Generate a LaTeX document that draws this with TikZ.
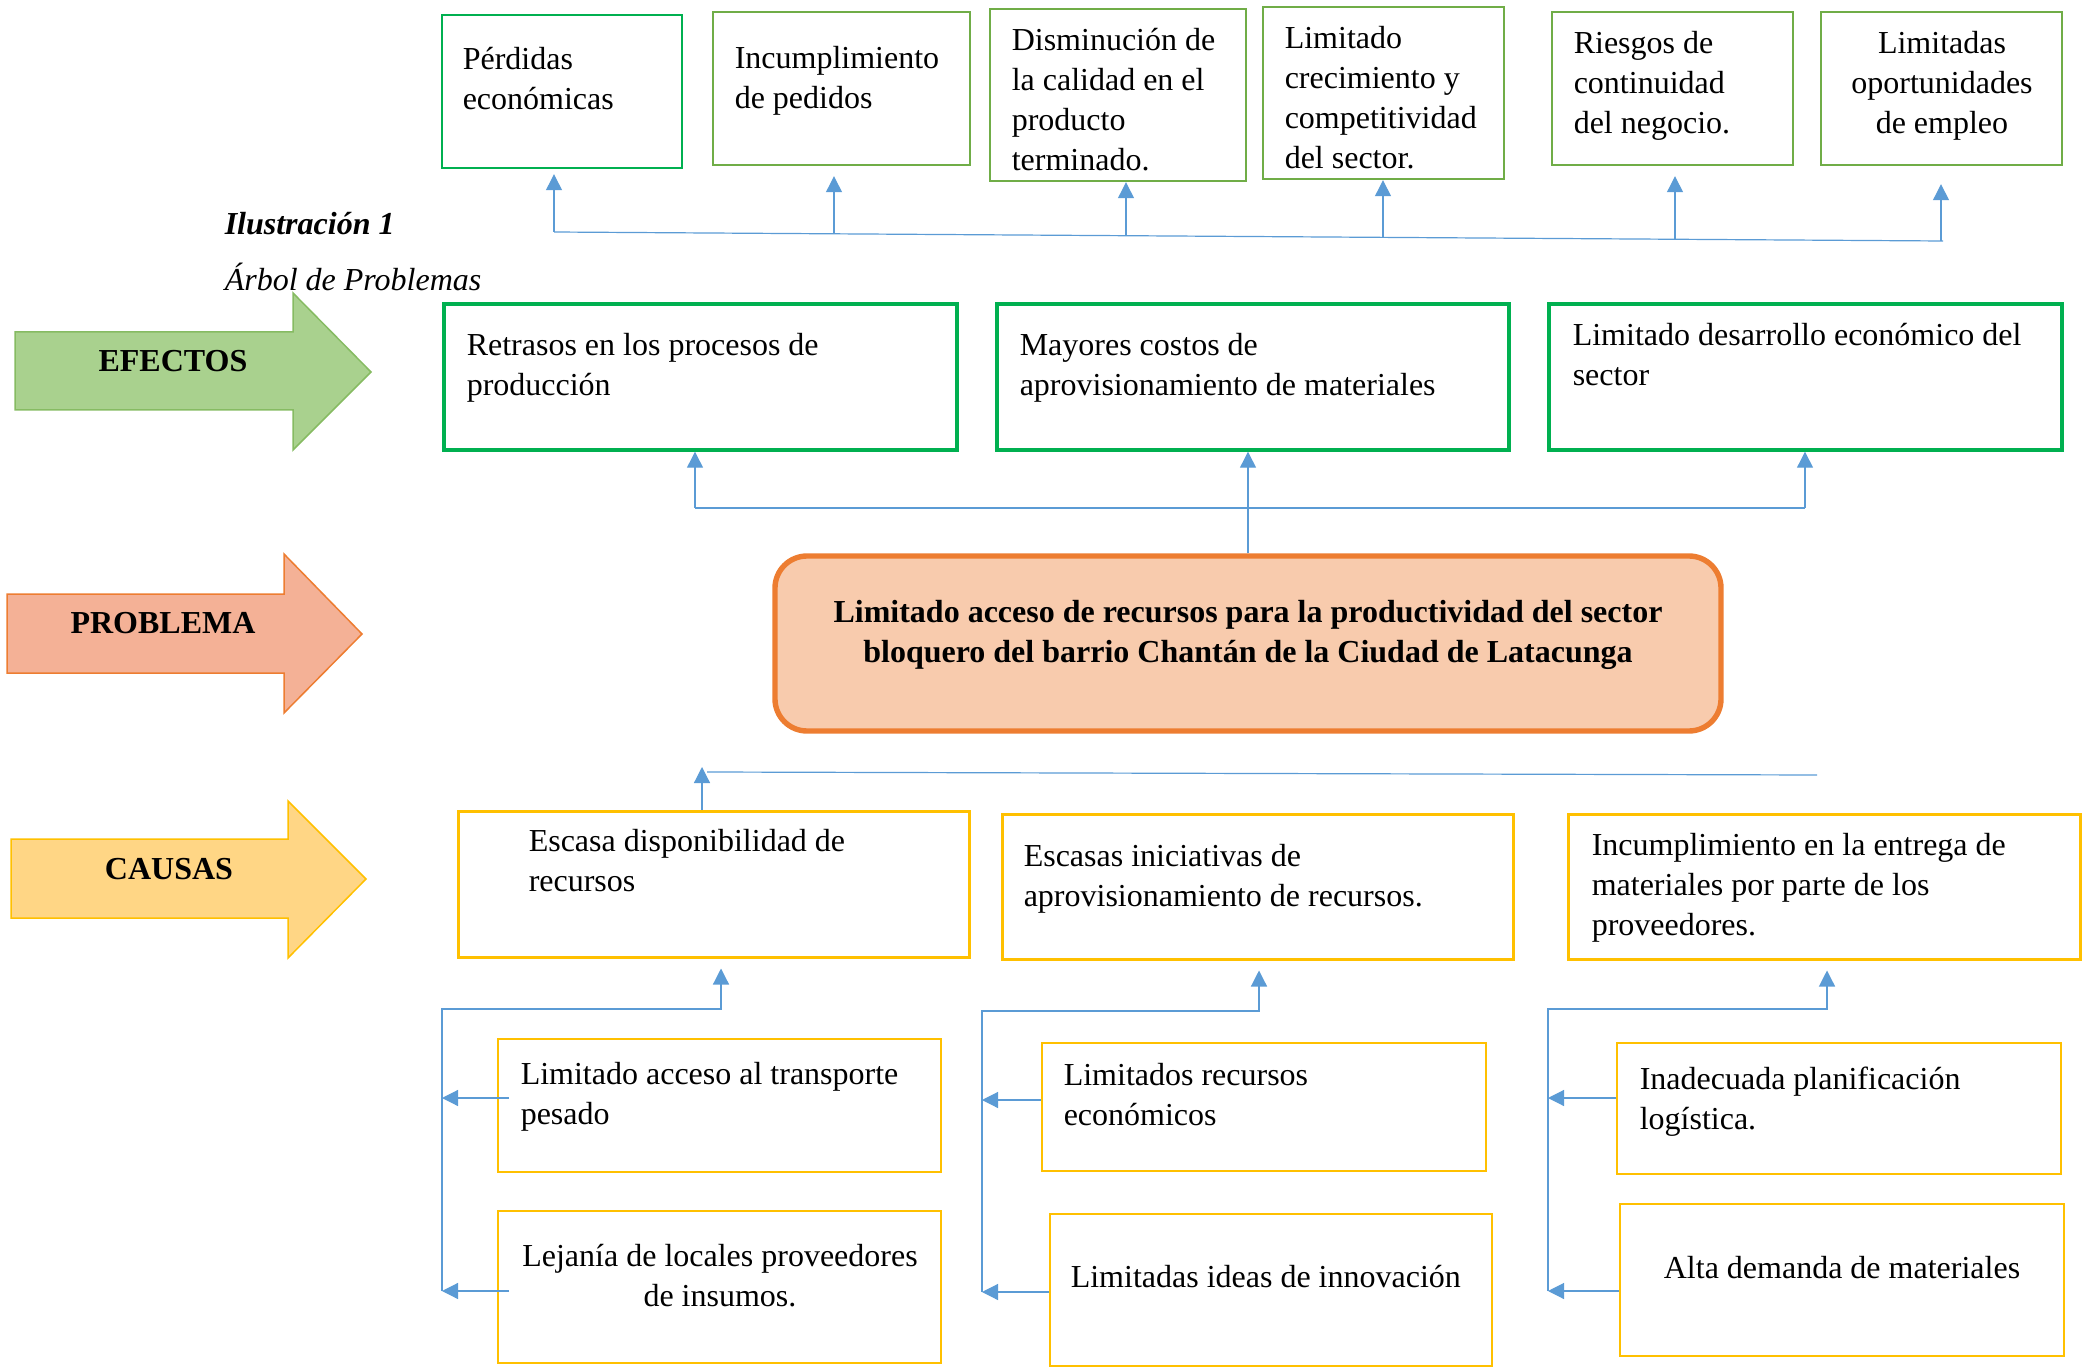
\documentclass[tikz,border=0pt]{standalone}
\usepackage{fontspec}
\setmainfont{Liberation Serif}
\usetikzlibrary{arrows.meta,fit}

\definecolor{efolive}{HTML}{70AD47}
\definecolor{efgreen}{HTML}{00B050}
\definecolor{pborange}{HTML}{ED7D31}
\definecolor{pbfill}{HTML}{F8CBAD}
\definecolor{cayellow}{HTML}{FFC000}
\definecolor{linkblue}{HTML}{5B9BD5}
\definecolor{efarrow}{HTML}{A9D18E}
\definecolor{efarrowline}{HTML}{86BB62}
\definecolor{pbarrow}{HTML}{F4B196}
\definecolor{caarrow}{HTML}{FFD685}

\tikzset{every picture/.style={line width=0.75pt}}
\tikzset{
  txt/.style={font=\fontsize{16}{20}\selectfont, inner sep=0pt, align=left, anchor=north west},
  tag/.style={font=\fontsize{16}{20}\selectfont\bfseries, inner sep=0pt},
  efbox/.style={draw=efolive, line width=1.2pt, inner sep=0pt},
  efmain/.style={draw=efgreen, line width=1.7pt, inner sep=0pt},
  pbbox/.style={draw=pborange, fill=pbfill, line width=2.7pt, rounded corners=16pt, inner sep=0pt},
  cabox/.style={draw=cayellow, line width=1.5pt, inner sep=0pt},
  casub/.style={draw=cayellow, line width=1pt, inner sep=0pt},
  link/.style={draw=linkblue, line width=0.6pt},
  linkarr/.style={link, color=linkblue, -{Triangle[length=8pt,width=8pt]}},
}

\begin{document}
\begin{tikzpicture}[x=0.5pt,y=0.5pt,yscale=-1,xscale=1]
	\useasboundingbox (0,0) rectangle (2089,1369);

	%Shape: Right Arrow
	\draw [draw=efarrowline, fill=efarrow] (15,332) -- (293,332) -- (293,293) -- (371,372) -- (293,450) -- (293,410) -- (15,410) -- cycle ;
	%Shape: Right Arrow
	\draw [draw=pborange, fill=pbarrow] (7,594) -- (284,594) -- (284,554) -- (362,634) -- (284,713) -- (284,673) -- (7,673) -- cycle ;
	%Shape: Right Arrow
	\draw [draw=cayellow, fill=caarrow] (11,839) -- (288,839) -- (288,801) -- (366,879) -- (288,958) -- (288,918) -- (11,918) -- cycle ;

	% Text Node
	\node [tag] (efectos) at (173,361) {EFECTOS};
	% Text Node
	\node [tag] (problema) at (163,623) {PROBLEMA};
	% Text Node
	\node [tag] (causas) at (169,869) {CAUSAS};

	% Text Node
	\node [anchor=base west, inner sep=0pt, font=\fontsize{16}{20}\selectfont\bfseries\itshape] (ilus) at (224,235) {Ilustración 1};
	% Text Node
	\node [anchor=base west, inner sep=0pt, font=\fontsize{16}{20}\selectfont\itshape] (arbol) at (224,291) {Árbol de Problemas};

	%Shape: Rectangle (upper effects)
	\node [efbox, draw=efgreen, fit={(442,15) (682,168)}] (fx1) {};
	\node [efbox, fit={(713,12) (970,165)}] (fx2) {};
	\node [efbox, fit={(990,9) (1246,181)}] (fx3) {};
	\node [efbox, fit={(1263,7) (1504,179)}] (fx4) {};
	\node [efbox, fit={(1552,12) (1793,165)}] (fx5) {};
	\node [efbox, fit={(1821,12) (2062,165)}] (fx6) {};

	% Text Node
	\node [txt] (fx1t) at (462,47) {Pérdidas\\económicas};
	% Text Node
	\node [txt] (fx2t) at (734,46) {Incumplimiento\\de pedidos};
	% Text Node
	\node [txt] (fx3t) at (1011,28) {Disminución de\\la calidad en el\\producto\\terminado.};
	% Text Node
	\node [txt] (fx4t) at (1284,26) {Limitado\\crecimiento y\\competitividad\\del sector.};
	% Text Node
	\node [txt] (fx5t) at (1573,31) {Riesgos de\\continuidad\\del negocio.};
	% Text Node
	\node [txt, anchor=north, align=center] (fx6t) at (1942,31) {Limitadas\\oportunidades\\de empleo};

	%Straight Lines (upper effects)
	\coordinate (fxa) at (554,232);
	\coordinate (fxb) at (1943,241);
	\draw [link] (fxa) -- (fxb) ;
	\coordinate (fx2b) at (834,234);
	\coordinate (fx3b) at (1126,236);
	\coordinate (fx4b) at (1383,237);
	\coordinate (fx5b) at (1675,239);
	\coordinate (fx6b) at (1941,241);
	\draw [linkarr, shorten >=2.5pt] (fxa) -- (fxa |- fx1.south) ;
	\draw [linkarr, shorten >=5pt] (fx2b) -- (fx2b |- fx2.south) ;
	\draw [linkarr] (fx3b) -- (fx3b |- fx3.south) ;
	\draw [linkarr] (fx4b) -- (fx4b |- fx4.south) ;
	\draw [linkarr, shorten >=5pt] (fx5b) -- (fx5b |- fx5.south) ;
	\draw [linkarr, shorten >=9pt] (fx6b) -- (fx6b |- fx6.south) ;

	%Shape: Rectangle (effects)
	\node [efmain, fit={(444,304) (957,450)}] (ef1) {};
	\node [efmain, fit={(997,304) (1509,450)}] (ef2) {};
	\node [efmain, fit={(1549,304) (2062,450)}] (ef3) {};

	% Text Node
	\node [txt] (ef1t) at (466,333) {Retrasos en los procesos de\\producción};
	% Text Node
	\node [txt] (ef2t) at (1019,333) {Mayores costos de\\aprovisionamiento de materiales};
	% Text Node
	\node [txt] (ef3t) at (1572,323) {Limitado desarrollo económico del\\sector};

	%Shape: Rounded Rectangle (problem)
	\node [pbbox, fit={(775,556) (1721,731)}] (pb) {};
	% Text Node
	\node [txt, anchor=north, align=center, font=\fontsize{16}{20}\selectfont\bfseries] (pbt) at (1248,600) {Limitado acceso de recursos para la productividad del sector\\bloquero del barrio Chantán de la Ciudad de Latacunga};

	%Straight Lines (problem to effects)
	\coordinate (efa) at (695,508);
	\coordinate (efb) at (1805,508);
	\draw [link] (efa) -- (efb) ;
	\draw [linkarr] (efa) -- (efa |- ef1.south) ;
	\draw [linkarr] (efb) -- (efb |- ef3.south) ;
	\draw [linkarr] (pb.north) -- (pb.north |- ef2.south) ;

	%Shape: Rectangle (causes)
	\node [cabox, fit={(458,811) (969,957)}] (ca1) {};
	\node [cabox, fit={(1002,814) (1513,959)}] (ca2) {};
	\node [cabox, fit={(1568,814) (2080,959)}] (ca3) {};

	% Text Node
	\node [txt] (ca1t) at (528,829) {Escasa disponibilidad de\\recursos};
	% Text Node
	\node [txt] (ca2t) at (1023,844) {Escasas iniciativas de\\aprovisionamiento de recursos.};
	% Text Node
	\node [txt] (ca3t) at (1591,833) {Incumplimiento en la entrega de\\materiales por parte de los\\proveedores.};

	%Straight Lines (causes to problem)
	\coordinate (caa) at (702,767);
	\coordinate (cal) at (707,772);
	\coordinate (cab) at (1817,775);
	\draw [link] (cal) -- (cab) ;
	\draw [linkarr] (caa |- ca1.north) -- (caa) ;

	%Shape: Rectangle (sub causes)
	\node [casub, fit={(498,1039) (941,1172)}] (cs1) {};
	\node [casub, fit={(498,1211) (941,1363)}] (cs2) {};
	\node [casub, fit={(1042,1043) (1486,1171)}] (cs3) {};
	\node [casub, fit={(1050,1214) (1492,1366)}] (cs4) {};
	\node [casub, fit={(1617,1043) (2061,1174)}] (cs5) {};
	\node [casub, fit={(1620,1204) (2064,1356)}] (cs6) {};

	% Text Node
	\node [txt] (cs1t) at (520,1062) {Limitado acceso al transporte\\pesado};
	% Text Node
	\node [txt, anchor=north, align=center] (cs2t) at (720,1243) {Lejanía de locales proveedores\\de insumos.};
	% Text Node
	\node [txt] (cs3t) at (1063,1063) {Limitados recursos\\económicos};
	% Text Node
	\node [txt, anchor=base west] (cs4t) at (1070,1287) {Limitadas ideas de innovación};
	% Text Node
	\node [txt] (cs5t) at (1639,1066) {Inadecuada planificación\\logística.};
	% Text Node
	\node [txt, anchor=base] (cs6t) at (1842,1278) {Alta demanda de materiales};

	%Straight Lines (sub causes to causes)
	\coordinate (g1k) at (721,1009);
	\coordinate (g1a) at (442,1098);
	\coordinate (g1b) at (442,1291);
	\draw [linkarr, shorten >=5pt] (g1b) |- (g1k) -- (g1k |- ca1.south) ;
	\draw [linkarr, shorten <=-6pt] (g1a -| cs1.west) -- (g1a) ;
	\draw [linkarr, shorten <=-6pt] (g1b -| cs2.west) -- (g1b) ;

	\coordinate (g2k) at (1259,1011);
	\coordinate (g2a) at (982,1100);
	\coordinate (g2b) at (982,1292);
	\draw [linkarr, shorten >=5pt] (g2b) |- (g2k) -- (g2k |- ca2.south) ;
	\draw [linkarr] (g2a -| cs3.west) -- (g2a) ;
	\draw [linkarr] (g2b -| cs4.west) -- (g2b) ;

	\coordinate (g3k) at (1827,1009);
	\coordinate (g3a) at (1548,1098);
	\coordinate (g3b) at (1548,1291);
	\draw [linkarr, shorten >=5pt] (g3b) |- (g3k) -- (g3k |- ca3.south) ;
	\draw [linkarr] (g3a -| cs5.west) -- (g3a) ;
	\draw [linkarr] (g3b -| cs6.west) -- (g3b) ;
\end{tikzpicture}
\end{document}
